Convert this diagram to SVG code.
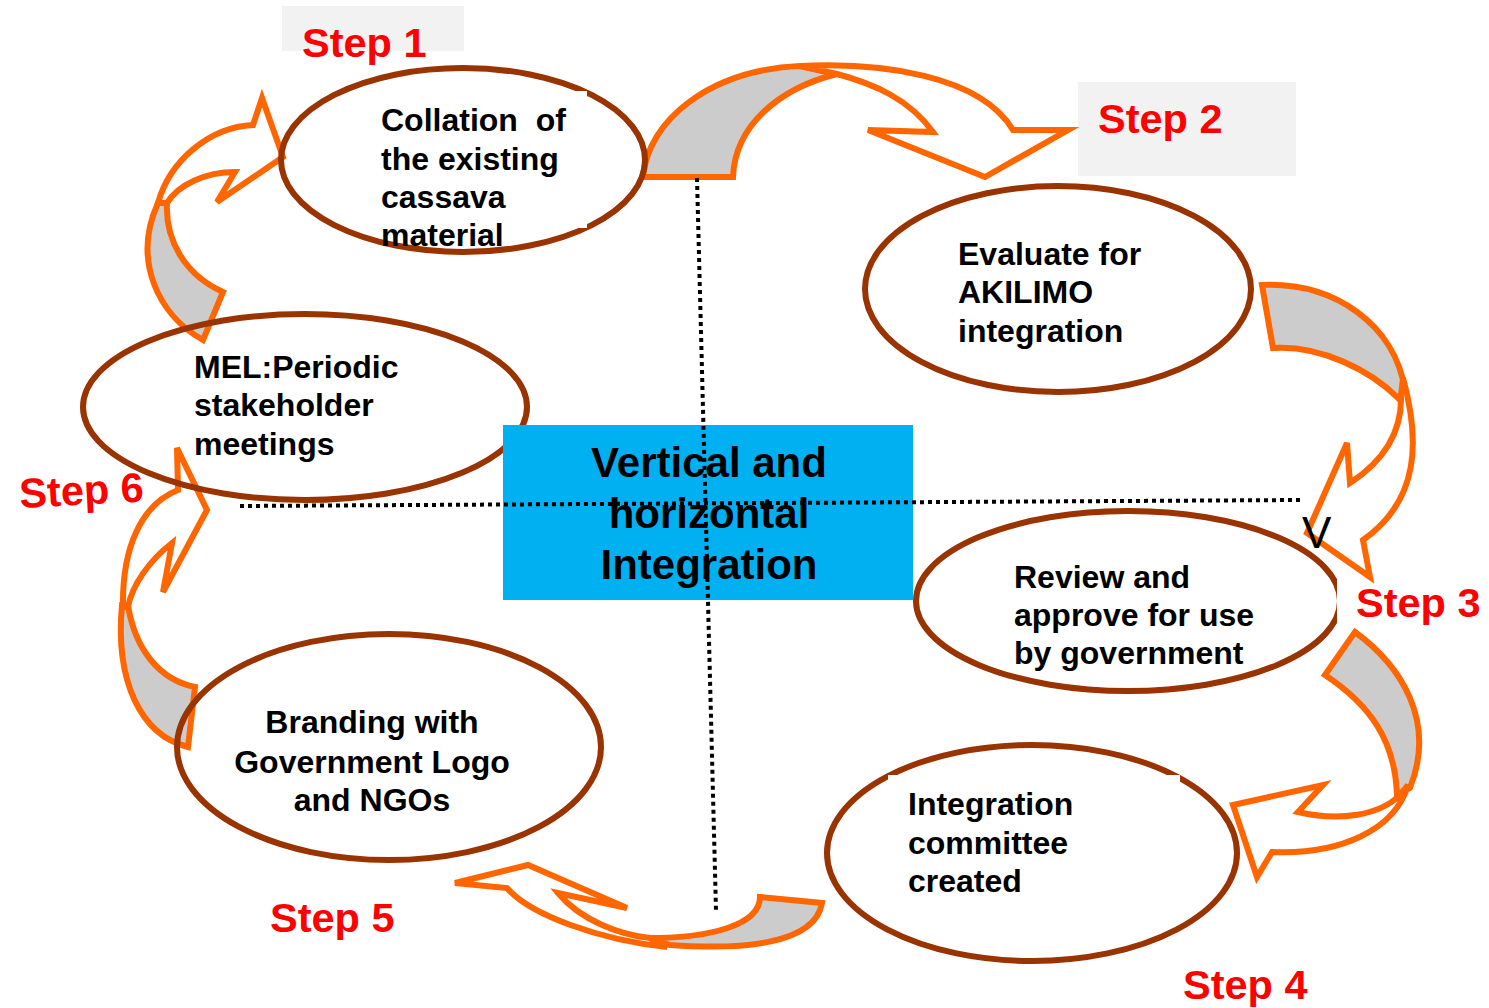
<svg xmlns="http://www.w3.org/2000/svg" width="1489" height="1008" viewBox="0 0 1489 1008">
<defs>
<style>
.node{fill:none;stroke:#993300;stroke-width:6}
.band{fill:#CCCCCC;stroke:#FF6600;stroke-width:6;stroke-linejoin:miter}
.front{fill:#FFFFFF;stroke:#FF6600;stroke-width:6;stroke-linejoin:miter}
.t{font-family:"Liberation Sans",Arial,sans-serif;font-weight:bold;font-size:32px;fill:#000}
.c{font-family:"Liberation Sans",Arial,sans-serif;font-weight:bold;font-size:42px;fill:#000;text-anchor:middle}
.s{font-family:"Liberation Sans",Arial,sans-serif;font-weight:bold;font-size:41.5px;fill:#FF0000}
.dot{fill:none;stroke:#000;stroke-width:4;stroke-dasharray:4 4}
</style>
<clipPath id="cr"><rect x="0" y="0" width="1337" height="1008"/></clipPath>
</defs>
<rect width="1489" height="1008" fill="#FFFFFF"/>
<rect x="282" y="6" width="182" height="45" fill="#F2F2F2"/>
<rect x="1078" y="82" width="218" height="94" fill="#F2F2F2"/>
<g id="connectors">
<g id="arrowA">
<path class="band" d="M643,177 C648,120 710,70 800,66 L837,74 C780,88 735,125 733,177 Z"/>
<path class="front" d="M800,66 C880,62 980,75 1013,130 L1068,130 L985,177 L868,130 L933,132 C910,100 875,84 837,74 Z"/>
</g>
<g id="arrowB">
<path class="band" d="M1262,285 C1335,282 1395,325 1405,390 L1398,398 C1370,370 1320,345 1273,348 Z"/>
<path class="front" d="M1403,378 C1420,440 1420,500 1363,540 L1370,577 L1307,533 L1347,443 L1350,483 C1385,460 1402,430 1401,396 Z"/>
</g>
<g id="arrowC">
<path class="band" d="M1355,632 C1400,665 1437,720 1410,788 L1397,795 C1395,740 1370,705 1325,675 Z"/>
<path class="front" d="M1408,785 C1395,830 1340,855 1272,852 L1257,877 L1233,805 L1323,785 L1298,812 C1340,822 1380,815 1400,795 Z"/>
</g>
<g id="arrowD">
<path class="band" d="M760,897 L822,903 C815,945 740,950 670,945 L650,938 C710,938 760,925 760,897 Z"/>
<path class="front" d="M667,947 C600,940 530,915 507,888 L455,883 L528,865 L627,908 L558,893 C580,920 620,935 650,938 Z"/>
</g>
<g id="arrowE">
<path class="band" d="M195,687 L188,747 C140,735 115,680 122,605 L128,605 C135,650 160,680 195,687 Z"/>
<path class="front" d="M123,607 C122,550 140,505 178,490 L177,448 L207,510 L163,592 L172,543 C150,560 132,585 128,607 Z"/>
</g>
<g id="arrowF">
<path class="band" d="M223,292 L203,340 C158,315 132,260 158,203 L167,203 C165,240 185,275 223,292 Z"/>
<path class="front" d="M158,203 C170,160 210,127 253,125 L262,98 L283,157 L217,202 L235,172 C205,172 178,185 167,203 Z"/>
</g>
</g>
<g id="node1">
<ellipse class="node" cx="463" cy="160" rx="182" ry="92"/>
<rect x="375" y="91" width="212" height="137" fill="#FFFFFF"/>
</g>
<g id="node2"><ellipse class="node" cx="1058" cy="289" rx="193" ry="103"/></g>
<g id="node3"><ellipse class="node" cx="305" cy="407" rx="222" ry="93"/></g>
<g id="node4"><ellipse class="node" cx="1128" cy="601" rx="212" ry="90" clip-path="url(#cr)"/></g>
<g id="node5"><ellipse class="node" cx="389" cy="747" rx="212" ry="113"/></g>
<g id="node6">
<ellipse class="node" cx="1032" cy="853" rx="205" ry="108"/>
<rect x="888" y="775" width="292" height="20" fill="#FFFFFF"/>
</g>
<g id="center">
<rect x="503" y="425" width="410" height="175" fill="#00B0F0"/>
</g>
<g id="guides">
<path class="dot" d="M697,178 L716,910"/>
<path class="dot" d="M240,506 L1300,500"/>
</g>
<g id="labels">
<text class="t" x="381" y="131" xml:space="preserve">Collation  of</text>
<text class="t" x="381" y="170">the existing</text>
<text class="t" x="381" y="208">cassava</text>
<text class="t" x="381" y="246">material</text>
<text class="t" x="958" y="265">Evaluate for</text>
<text class="t" x="958" y="303">AKILIMO</text>
<text class="t" x="958" y="342">integration</text>
<text class="t" x="194" y="378">MEL:Periodic</text>
<text class="t" x="194" y="416">stakeholder</text>
<text class="t" x="194" y="455">meetings</text>
<text class="t" x="1014" y="588">Review and</text>
<text class="t" x="1014" y="626">approve for use</text>
<text class="t" x="1014" y="664">by government</text>
<text class="t" x="372" y="733" text-anchor="middle">Branding with</text>
<text class="t" x="372" y="773" text-anchor="middle">Government Logo</text>
<text class="t" x="372" y="811" text-anchor="middle">and NGOs</text>
<text class="t" x="908" y="815">Integration</text>
<text class="t" x="908" y="854">committee</text>
<text class="t" x="908" y="892">created</text>
<text class="c" x="709" y="477">Vertical and</text>
<text class="c" x="709" y="528">horizontal</text>
<text class="c" x="709" y="579">Integration</text>
<text x="1302" y="548" font-family="Liberation Sans, Arial, sans-serif" font-size="44" fill="#000">V</text>
<text class="s" x="302" y="57">Step 1</text>
<text class="s" x="1098" y="133">Step 2</text>
<text class="s" x="1356" y="617">Step 3</text>
<text class="s" x="1183" y="999">Step 4</text>
<text class="s" x="270" y="932">Step 5</text>
<text class="s" x="20" y="508" transform="rotate(-3 20 508)">Step 6</text>
</g>
</svg>
